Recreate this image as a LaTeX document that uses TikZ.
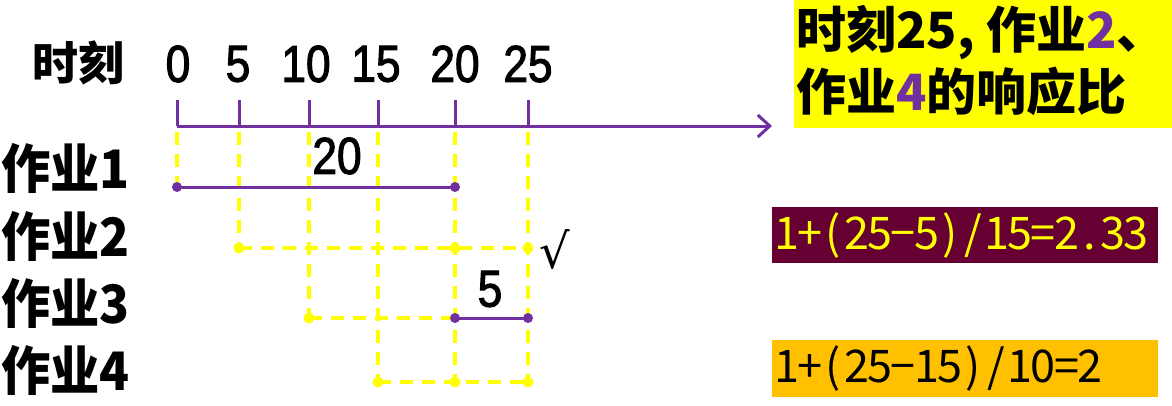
\documentclass[tikz,border=0pt]{standalone}
\usepackage{fontspec}
\setmainfont{Liberation Sans}
\newfontfamily\cjk{Noto Sans CJK SC}
\newfontfamily\cjkn{Noto Sans CJK SC}[FakeStretch=0.93]
\newfontfamily\digf{Liberation Sans}[FakeStretch=0.85,FakeBold=2]
\newfontfamily\symf{DejaVu Sans}
\usetikzlibrary{arrows.meta}
\definecolor{pur}{HTML}{7030A0}
\definecolor{ylw}{HTML}{FFFF00}
\definecolor{maroon}{HTML}{660033}
\definecolor{orng}{HTML}{FFC000}
\newcommand\monostr[1]{\monoloop#1\relax}
\def\monoloop#1{\ifx\relax#1\else\makebox[23.3pt][c]{#1}\expandafter\monoloop\fi}
\tikzset{
  axisline/.style={draw=pur,line width=3pt},
  tickline/.style={draw=pur,line width=3pt},
  runline/.style={draw=pur,line width=3pt},
  waitline/.style={draw=ylw,line width=4pt,dash pattern=on 13pt off 9pt},
  ydot/.style={circle,fill=ylw,inner sep=0pt,minimum size=11pt},
  pdot/.style={circle,fill=pur,inner sep=0pt,minimum size=10pt},
  numlbl/.style={font=\digf\fontsize{52}{56}\selectfont,inner sep=0pt},
  joblbl/.style={font=\cjkn\bfseries\fontsize{53}{56}\selectfont,inner sep=0pt,anchor=west},
  titlelbl/.style={font=\cjk\bfseries\fontsize{50}{54}\selectfont,inner sep=0pt,anchor=west},
  formula/.style={font=\cjk\fontsize{45}{48}\selectfont,inner sep=0pt,anchor=west}
}
\begin{document}
\begin{tikzpicture}[x=1pt,y=-1pt]
\useasboundingbox (0,0) rectangle (1172,405);
% axis coordinates
\coordinate (a0) at (177,126); \coordinate (a1) at (239,126); \coordinate (a2) at (309,126);
\coordinate (a3) at (378,126); \coordinate (a4) at (455,126); \coordinate (a5) at (528,126);
\coordinate (aend) at (772,126);
\foreach \i/\x in {0/177,1/239,2/309,3/378,4/455,5/528}{
  \coordinate (tt\i) at (\x,100);
  \coordinate (ts\i) at (\x,132);
}
% header labels
\node[font=\cjk\bfseries\fontsize{46}{50}\selectfont,inner sep=0pt] (shike) at (78,63) {时刻};
\node[numlbl] (n0) at (178,64) {0};
\node[numlbl] (n1) at (238,64) {5};
\node[numlbl] (n2) at (306,64) {10};
\node[numlbl] (n3) at (376,64) {15};
\node[numlbl] (n4) at (455,64) {20};
\node[numlbl] (n5) at (528,64) {25};
% job labels
\node[joblbl] (j1) at (1,168) {作业1};
\node[joblbl] (j2) at (1,236) {作业2};
\node[joblbl] (j3) at (1,303) {作业3};
\node[joblbl] (j4) at (1,370) {作业4};
% job points
\coordinate (p10) at (177,187); \coordinate (p14) at (455,187);
\coordinate (p21) at (239,248); \coordinate (p24) at (455,248); \coordinate (p25) at (528,248);
\coordinate (p32) at (309,318); \coordinate (p34) at (455,318); \coordinate (p35) at (528,318);
\coordinate (p43) at (378,382); \coordinate (p44) at (455,382); \coordinate (p45) at (528,382);
% yellow dashed verticals
\draw[waitline] (ts0) -- (p10);
\draw[waitline] (ts1) -- (p21);
\draw[waitline] (ts2) -- (p32);
\draw[waitline] (ts3) -- (p43);
\draw[waitline] (ts4) -- (p44);
\draw[waitline] (ts5) -- (p45);
% yellow dashed horizontals
\draw[waitline] (p21) -- (p25);
\draw[waitline] (p32) -- (p34);
\draw[waitline] (p43) -- (p45);
% yellow dots
\foreach \p in {p21,p24,p25,p32,p43,p44,p45} \node[ydot] at (\p) {};
% axis
\draw[axisline,-{Straight Barb[length=12pt,width=22pt,line width=3pt]}] (a0) -- (aend);
\foreach \i in {0,...,5} \draw[tickline] (tt\i) -- (a\i);
% running segments
\draw[runline] (p10) -- (p14);
\draw[runline] (p34) -- (p35);
\foreach \p in {p10,p14,p34,p35} \node[pdot] at (\p) {};
\node[numlbl] (d20) at (337,156) {20};
\node[numlbl] (d5) at (490,289) {5};
\node[font=\symf\fontsize{48}{52}\selectfont,inner sep=0pt] (chk) at (555,250) {√};
% title box
\node[fill=ylw,minimum width=378pt,minimum height=128pt,anchor=north west,inner sep=0pt] (title) at (794,0) {};
\node[titlelbl] (t1) at (796,33) {时刻25, 作业\textcolor{pur}{2}、};
\node[titlelbl] (t2) at (796,91) {作业\textcolor{pur}{4}的响应比};
% formula boxes
\node[fill=maroon,minimum width=386pt,minimum height=56pt,anchor=north west,inner sep=0pt] (f1box) at (772,207) {};
\node[formula,text=ylw] (f1) at (775,235) {\monostr{1+(25−5)/15=2.33}};
\node[fill=orng,minimum width=386pt,minimum height=57pt,anchor=north west,inner sep=0pt] (f2box) at (772,340) {};
\node[formula,text=black] (f2) at (775,368) {\monostr{1+(25−15)/10=2}};
\end{tikzpicture}
\end{document}
